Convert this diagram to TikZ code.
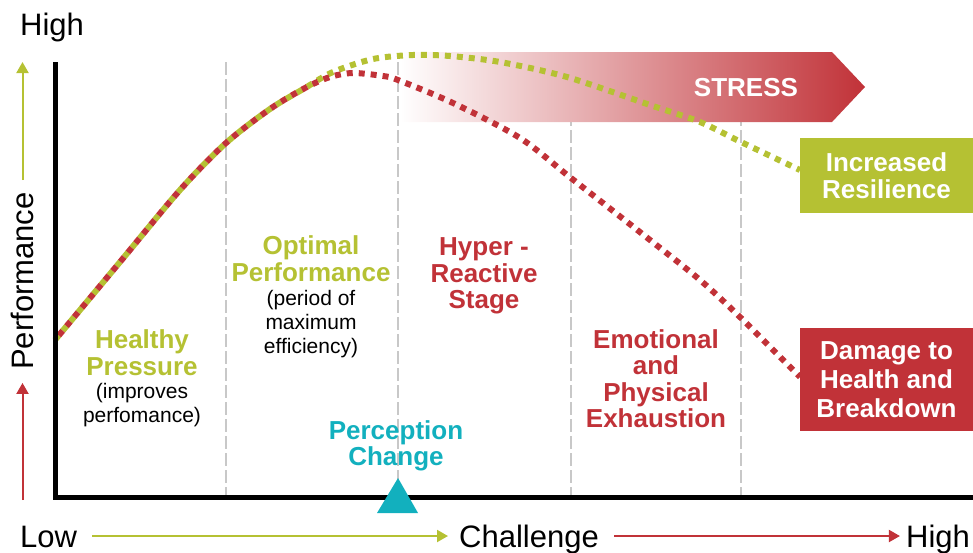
\documentclass[tikz,border=0pt]{standalone}
\usepackage{fontspec}
\setmainfont{Liberation Sans}
\usetikzlibrary{arrows.meta}
\definecolor{ResGreen}{RGB}{181,193,51}
\definecolor{StressRed}{RGB}{193,50,56}
\definecolor{ChangeTeal}{RGB}{18,176,190}
\definecolor{GuideGray}{RGB}{200,200,200}

\begin{document}
\begin{tikzpicture}[x=1pt,y=1pt,yscale=-1,
	axislabel/.style={inner sep=0pt, text height=22.2pt, text depth=0pt, font=\fontsize{31}{33}\selectfont},
	zonetitle/.style={inner sep=0pt, align=center, font=\bfseries\fontsize{26}{26.5}\selectfont},
	zonenote/.style={inner sep=0pt, align=center, font=\fontsize{21}{24}\selectfont},
	outcomebox/.style={inner sep=0pt, align=center, text=white, minimum width=173pt, font=\bfseries\fontsize{26}{27}\selectfont},
	guide/.style={GuideGray, line width=2.5pt, dash pattern=on 13pt off 4pt},
	curve/.style={line width=6pt, dash pattern=on 6pt off 6pt},
	axisarrow/.style={line width=2pt, -{Triangle[length=11pt,width=12pt]}}]
		\path[use as bounding box] (0,0) rectangle (973,552);

		% Draw the grey dashed lines between the zones
		\foreach \gx in {226,398,571,741}
			\draw[guide] (\gx,62) -- (\gx,495);

		% Draw the STRESS arrow, white on the left and red at the tip
		\shade[left color=white, right color=StressRed] (400,52) -- (832,52) -- (865,87) -- (832,122) -- (400,122) -- cycle;
		\node[inner sep=0pt, text=white, font=\bfseries\fontsize{26}{26}\selectfont] (stress) at (746,88) {STRESS};

		% Draw the two dotted curves (green = resilience, red = damage)
		\draw[curve, ResGreen] plot[smooth] coordinates {(55,340) (120,262) (180,190) (226,143) (270,109) (305,88) (333,72) (373,59) (413,55) (450,56) (500,62) (567,77) (650,105) (700,122) (741,142) (800,170)};
		\draw[curve, StressRed, dash phase=6pt] plot[smooth] coordinates {(55,340) (120,262) (180,190) (226,143) (270,109) (305,88) (330,77) (353,73) (383,76) (398,80) (453,103) (520,138) (571,178) (650,240) (700,280) (741,318) (800,377)};

		% The zone labels
		\node[zonetitle, text=ResGreen] (healthy) at (142,352.5) {Healthy\\Pressure};
		\node[zonenote] (healthynote) at (142,405) {(improves\\perfomance)};
		\node[zonetitle, text=ResGreen] (optimal) at (311,258.5) {Optimal\\Performance};
		\node[zonenote] (optimalnote) at (311,324) {(period of\\maximum\\efficiency)};
		\node[zonetitle, text=StressRed] (hyper) at (484,276) {Hyper -\\Reactive\\Stage};
		\node[zonetitle, text=StressRed] (exhaustion) at (656,378.5) {Emotional\\and\\Physical\\Exhaustion};
		\node[zonetitle, text=ChangeTeal] (perception) at (396,446) {Perception\\Change};

		% The outcome boxes at the end of the curves
		\node[outcomebox, fill=ResGreen, minimum height=75pt] (resilience) at (886.5,175.5) {Increased\\Resilience};
		\node[outcomebox, fill=StressRed, minimum height=103pt, font=\bfseries\fontsize{26}{29}\selectfont] (damage) at (886.5,379.5) {Damage to\\Health and\\Breakdown};

		% Draw the axes
		\coordinate (ytop) at (55,62);
		\coordinate (origin) at (55,497);
		\coordinate (xend) at (973,497);
		\draw[line width=5pt] (ytop) -- (origin) -- (xend);

		% The perception change marker
		\coordinate (changetip) at (398,478);
		\fill[ChangeTeal] (377,513) -- (changetip) -- (418,513) -- cycle;

		% Axis labels and their arrows
		\node[axislabel] (yhigh) at (52,24) {High};
		\node[axislabel, rotate=90] (perf) at (22.5,281) {Performance};
		\coordinate (perftip) at (22.5,62);
		\coordinate (perfbase) at (22.5,500);
		\draw[axisarrow, ResGreen, shorten <=12pt] (perf) -- (perftip);
		\draw[axisarrow, StressRed, shorten >=13pt] (perfbase) -- (perf);

		\node[axislabel] (xlow) at (48.5,536) {Low};
		\node[axislabel] (challenge) at (529,536) {Challenge};
		\node[axislabel] (xhigh) at (938,536) {High};
		\draw[axisarrow, ResGreen, shorten <=15pt, shorten >=11pt] (xlow) -- (challenge);
		\draw[axisarrow, StressRed, shorten <=15pt, shorten >=6pt] (challenge) -- (xhigh);
	\end{tikzpicture}
\end{document}
